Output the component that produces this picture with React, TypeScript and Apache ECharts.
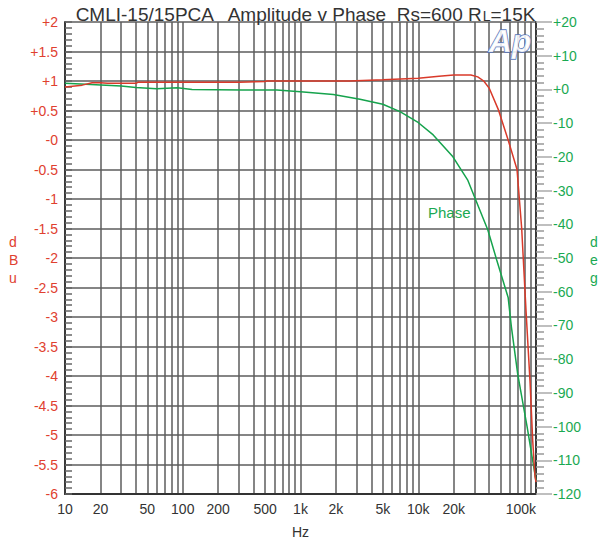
import React, { useEffect, useRef } from 'react';
import * as echarts from 'echarts';

// Amplitude (dBu) vs frequency (Hz)
const ampFreq = [10, 14, 17, 20, 23, 30, 40, 42, 100, 300, 500, 520, 1000, 2600, 5000, 10000, 15000, 20000, 28000, 32000, 36000, 40000, 48000, 58000, 69000, 75600, 82300, 89000, 93800, 98000, 100000];
const ampDb = [0.9, 0.93, 0.97, 0.97, 0.96, 0.96, 0.96, 0.98, 0.98, 0.98, 0.99, 1.0, 1.0, 1.0, 1.02, 1.045, 1.08, 1.1, 1.1, 1.07, 1.0, 0.88, 0.51, 0.0, -0.5, -1.5, -2.9, -4.1, -5.1, -5.7, -5.8];

// Phase (deg) vs frequency (Hz)
const phaseFreq = [10, 15, 30, 40, 60, 90, 120, 320, 630, 1000, 1900, 3200, 5000, 7000, 9800, 13400, 19700, 26400, 39000, 46300, 58000, 61800, 70000, 84000, 100000];
const phaseDeg = [1.8, 1.5, 1.0, 0.6, 0.2, 0.5, 0.0, -0.2, -0.2, -0.7, -1.5, -2.9, -4.4, -6.6, -9.6, -13.5, -20, -27, -41.7, -50.5, -61.7, -70.4, -84.5, -100, -116];

// Axis tick values
const xLabelValues = [10, 20, 50, 100, 200, 500, 1000, 2000, 5000, 10000, 20000, 100000];
const xGridValues = [
  10, 20, 30, 40, 50, 60, 70, 80, 90,
  100, 200, 300, 400, 500, 600, 700, 800, 900,
  1000, 2000, 3000, 4000, 5000, 6000, 7000, 8000, 9000,
  10000, 20000, 30000, 40000, 50000, 60000, 70000, 80000, 90000, 100000,
];

const FONT = '"Liberation Sans", Arial, Helvetica, sans-serif';
const RED = '#d93a2a';
const GREEN = '#16a34d';
const RED_LABEL = '#e0402f';
const GREEN_LABEL = '#1aa952';

export default function App() {
  const ref = useRef<HTMLDivElement>(null);

  useEffect(() => {
    if (!ref.current) return;
    const chart = echarts.init(ref.current, null, { renderer: 'svg' });

    const ampData = ampFreq.map((f, i) => [f, ampDb[i]]);
    const phaseData = phaseFreq.map((f, i) => [f, phaseDeg[i]]);

    chart.setOption({
      animation: false,
      backgroundColor: '#ffffff',
      title: {
        text: 'CMLI-15/15PCA   Amplitude v Phase  Rs=600 R{s|L}=15K',
        left: 'center',
        top: 0,
        textStyle: {
          fontFamily: FONT,
          fontSize: 19,
          fontWeight: 'normal',
          color: '#333333',
          rich: {
            s: { fontFamily: FONT, fontSize: 14, color: '#333333', verticalAlign: 'bottom', padding: [0, 0, 1, 0] },
          },
        },
      },
      grid: { left: 65, right: 74, top: 22, bottom: 54, containLabel: false, outerBoundsMode: 'none' },
      xAxis: {
        type: 'log',
        logBase: 10,
        min: 10,
        max: 100000,
        name: 'Hz',
        nameLocation: 'middle',
        nameGap: 31,
        nameTextStyle: { fontFamily: FONT, fontSize: 14, color: '#333333' },
        axisLine: { show: true, onZero: false, lineStyle: { color: '#333333', width: 2 } },
        axisTick: { show: false, customValues: xGridValues },
        axisLabel: {
          customValues: xLabelValues,
          fontFamily: FONT,
          fontSize: 14,
          color: '#333333',
          margin: 8,
          alignMaxLabel: 'right',
          formatter: (v: number) => (v >= 1000 ? `${Math.round(v / 1000)}k` : `${Math.round(v)}`),
        },
        splitLine: { show: true, lineStyle: { color: '#5c5c5c', width: 1.5 } },
        minorTick: { show: false },
        minorSplitLine: { show: false },
      },
      yAxis: [
        {
          type: 'value',
          position: 'left',
          min: -6,
          max: 2,
          interval: 0.5,
          axisLine: { show: true, lineStyle: { color: '#3a3a3a', width: 2 } },
          axisTick: { show: true, inside: true, length: 7, lineStyle: { color: '#666666', width: 1.5 } },
          minorTick: { show: true, splitNumber: 5, length: 7, lineStyle: { color: '#666666', width: 1.5 } },
          axisLabel: {
            fontFamily: FONT,
            fontSize: 14,
            color: RED_LABEL,
            margin: 7,
            formatter: (v: number) => (v > 0 ? `+${v}` : v === 0 ? '-0' : `${v}`),
          },
          splitLine: { show: true, lineStyle: { color: '#5c5c5c', width: 1.5 } },
        },
        {
          type: 'value',
          position: 'right',
          min: -120,
          max: 20,
          interval: 10,
          axisLine: { show: true, lineStyle: { color: '#3a3a3a', width: 2 } },
          axisTick: { show: true, inside: false, length: 16, lineStyle: { color: '#aaaaaa', width: 1.5 } },
          minorTick: { show: true, splitNumber: 5, length: 8, lineStyle: { color: '#999999', width: 1.5 } },
          axisLabel: {
            fontFamily: FONT,
            fontSize: 14,
            color: GREEN_LABEL,
            margin: 17,
            formatter: (v: number) => (v >= 0 ? `+${v}` : `${v}`),
          },
          splitLine: { show: false },
        },
      ],
      series: [
        {
          name: 'Phase',
          type: 'line',
          yAxisIndex: 1,
          data: phaseData,
          showSymbol: false,
          smooth: false,
          lineStyle: { color: GREEN, width: 1.5 },
          itemStyle: { color: GREEN },
          z: 3,
        },
        {
          name: 'Amplitude',
          type: 'line',
          yAxisIndex: 0,
          data: ampData,
          showSymbol: false,
          smooth: false,
          lineStyle: { color: RED, width: 1.5 },
          itemStyle: { color: RED },
          z: 4,
        },
      ],
      graphic: [
        {
          type: 'text',
          left: 9,
          top: 233,
          style: { text: 'd\nB\nu', fill: RED_LABEL, font: `14px ${FONT}`, lineHeight: 18, align: 'center' },
        },
        {
          type: 'text',
          left: 590,
          top: 233,
          style: { text: 'd\ne\ng', fill: GREEN_LABEL, font: `14px ${FONT}`, lineHeight: 18, align: 'center' },
        },
        {
          type: 'text',
          left: 428,
          top: 205,
          style: { text: 'Phase', fill: GREEN_LABEL, font: `15px ${FONT}` },
        },
        {
          type: 'text',
          left: 488,
          top: 24,
          style: {
            text: 'Ap',
            fill: 'rgba(255,255,255,0.85)',
            stroke: '#5a76b8',
            lineWidth: 1.4,
            font: `italic bold 32px ${FONT}`,
          },
          z: 10,
        },
      ],
    });

    return () => chart.dispose();
  }, []);

  return <div ref={ref} style={{ position: 'absolute', left: 0, top: 0, width: 610, height: 548 }} />;
}
